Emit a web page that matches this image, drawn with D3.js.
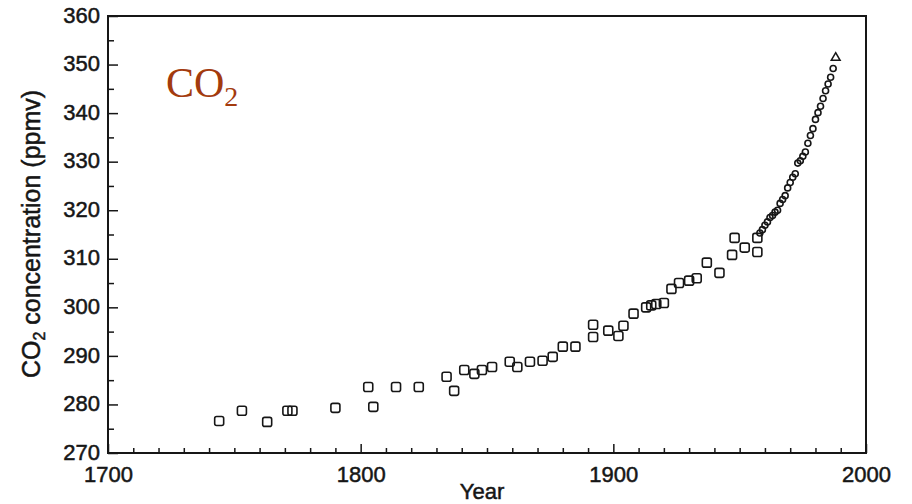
<!DOCTYPE html>
<html>
<head>
<meta charset="utf-8">
<script src="https://cdn.jsdelivr.net/npm/d3@7"></script>
<style>
  body { margin: 0; background: #fff; }
  svg { display: block; }
  .tick text { font-family: "Liberation Sans", Arial, sans-serif; }
</style>
</head>
<body>
<div class="content"></div>
<script>
// ice core samples (squares)
var iceYears = [1744, 1753, 1763, 1771, 1773, 1790, 1803, 1805, 1814, 1823, 1834, 1837, 1841, 1845,
    1848, 1852, 1859, 1862, 1867, 1872, 1876, 1880, 1885, 1892, 1892, 1898, 1902, 1904, 1908, 1913,
    1915, 1917, 1920, 1923, 1926, 1930, 1933, 1937, 1942, 1947, 1948, 1952, 1957, 1957];
var iceCO2 = [276.6, 278.7, 276.4, 278.7, 278.7, 279.3, 283.6, 279.5, 283.6, 283.6, 285.7, 282.8, 287.1, 286.3,
    287.1, 287.7, 288.8, 287.7, 288.8, 289.0, 289.8, 291.9, 291.9, 296.4, 293.9, 295.2, 294.1, 296.2, 298.7, 300.0,
    300.4, 300.7, 300.9, 303.8, 305.0, 305.5, 306.0, 309.2, 307.1, 310.8, 314.3, 312.3, 314.3, 311.4];

// direct atmospheric measurements (small circles)
var airYears = [1958, 1959, 1960, 1961, 1962, 1963, 1964, 1965, 1966, 1967, 1968, 1969, 1970, 1971, 1972,
    1973, 1974, 1975, 1976, 1977, 1978, 1979, 1980, 1981, 1982, 1983, 1984, 1985, 1986, 1987];
var airCO2 = [315.3, 316.0, 316.9, 317.6, 318.5, 318.9, 319.6, 320.0, 321.4, 322.2, 323.0, 324.6, 325.7, 326.8, 327.5,
    329.7, 330.2, 331.1, 332.0, 333.8, 335.4, 336.8, 338.7, 340.1, 341.4, 343.0, 344.6, 346.0, 347.4, 349.2];
var lastYear = [1988];
var lastCO2 = [351.4];

var xTicks = [1700, 1800, 1900, 2000];
var yTicks = [270, 280, 290, 300, 310, 320, 330, 340, 350, 360];

var W = 912, H = 504;
var ink = '#161616';
var sans = '"Liberation Sans", Arial, sans-serif';

var svg = d3.select('.content').append('svg')
    .attr('width', W)
    .attr('height', H);

var x = d3.scaleLinear().domain([1700, 2000]).range([108, 866]);
var y = d3.scaleLinear().domain([270, 360]).range([453, 16]);

// frame
svg.append('rect')
    .attr('x', x(1700)).attr('y', y(360))
    .attr('width', x(2000) - x(1700)).attr('height', y(270) - y(360))
    .style('fill', 'none').style('stroke', ink).style('stroke-width', 2);

// minor ticks
svg.append('g')
    .attr('transform', 'translate(' + x(1700) + ',0)')
    .call(d3.axisLeft(y).tickValues(d3.range(275, 360, 10)).tickSize(-6).tickSizeOuter(0).tickFormat(''))
    .call(function(g) { g.select('.domain').remove(); })
    .selectAll('line').style('stroke', ink).style('stroke-width', 1.5);
svg.append('g')
    .attr('transform', 'translate(0,' + y(270) + ')')
    .call(d3.axisBottom(x).tickValues(d3.range(1710, 2000, 10).filter(function(d) { return d % 100; }))
        .tickSize(-5).tickSizeOuter(0).tickFormat(''))
    .call(function(g) { g.select('.domain').remove(); })
    .selectAll('line').style('stroke', ink).style('stroke-width', 1.5);

// major ticks + labels
var yAxis = svg.append('g')
    .attr('transform', 'translate(' + x(1700) + ',0)')
    .call(d3.axisLeft(y).tickValues(yTicks).tickSize(-10).tickSizeOuter(0).tickPadding(8).tickFormat(d3.format('d')));
yAxis.selectAll('text').attr('dy', '0.28em');
var xAxis = svg.append('g')
    .attr('transform', 'translate(0,' + y(270) + ')')
    .call(d3.axisBottom(x).tickValues(xTicks).tickSize(-9).tickSizeOuter(0).tickPadding(13).tickFormat(d3.format('d')));
[yAxis, xAxis].forEach(function(a) {
    a.select('.domain').remove();
    a.selectAll('line').style('stroke', ink).style('stroke-width', 1.5);
    a.selectAll('text').style('font-size', '22px').style('fill', ink)
        .style('stroke', ink).style('stroke-width', 0.5);
});

// axis titles
svg.append('text')
    .attr('x', 482).attr('y', 499)
    .attr('text-anchor', 'middle')
    .style('font-family', sans)
    .style('font-size', '22px').style('fill', ink)
    .style('stroke', ink).style('stroke-width', 0.5)
    .text('Year');

var yl = svg.append('text')
    .attr('transform', 'translate(40,234) rotate(-90)')
    .attr('text-anchor', 'middle')
    .style('font-family', sans)
    .style('font-size', '25px').style('fill', ink)
    .style('stroke', ink).style('stroke-width', 0.5);
yl.append('tspan').text('CO');
yl.append('tspan').attr('dy', 5).style('font-size', '16px').text('2');
yl.append('tspan').attr('dy', -5).text(' concentration (ppmv)');

// CO2 label
var lbl = svg.append('text')
    .attr('x', 166).attr('y', 97)
    .style('font-family', '"Liberation Serif", "Times New Roman", serif')
    .style('font-size', '42px').style('fill', '#a33b0e');
lbl.append('tspan').text('CO');
lbl.append('tspan').attr('dy', 9).style('font-size', '28px').text('2');

// ice core squares
var ice = d3.zip(iceYears, iceCO2);
svg.append('g').selectAll('rect')
    .data(ice).enter().append('rect')
    .attr('x', function(d) { return x(d[0]) - 4.5; })
    .attr('y', function(d) { return y(d[1]) - 4.5; })
    .attr('width', 9).attr('height', 9)
    .attr('rx', 2)
    .style('fill', 'none').style('stroke', ink).style('stroke-width', 1.6);

// atmospheric circles
var air = d3.zip(airYears, airCO2);
svg.append('g').selectAll('circle')
    .data(air).enter().append('circle')
    .attr('cx', function(d) { return x(d[0]); })
    .attr('cy', function(d) { return y(d[1]); })
    .attr('r', 3)
    .style('fill', 'none').style('stroke', ink).style('stroke-width', 1.6);

// last point triangle
svg.append('g').selectAll('path')
    .data(d3.zip(lastYear, lastCO2)).enter().append('path')
    .attr('transform', function(d) { return 'translate(' + x(d[0]) + ',' + y(d[1]) + ')'; })
    .attr('d', d3.symbol().type(d3.symbolTriangle).size(34))
    .style('fill', 'none').style('stroke', ink).style('stroke-width', 1.5);
</script>
</body>
</html>
